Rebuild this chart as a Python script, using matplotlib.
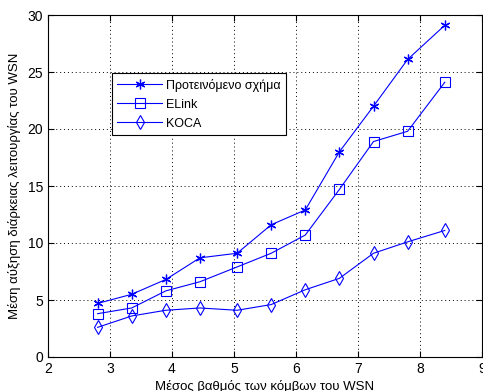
import matplotlib
matplotlib.use('Agg')
import matplotlib.pyplot as plt

plt.rcParams['font.family'] = ['Liberation Sans', 'DejaVu Sans']

# data
x = [2.8, 3.35, 3.9, 4.45, 5.05, 5.6, 6.15, 6.7, 7.25, 7.8, 8.4]
proposed = [4.7, 5.5, 6.8, 8.7, 9.1, 11.6, 12.9, 18.0, 22.0, 26.1, 29.1]
elink = [3.8, 4.3, 5.8, 6.6, 7.9, 9.1, 10.7, 14.7, 18.9, 19.8, 24.1]
koca = [2.6, 3.6, 4.1, 4.3, 4.1, 4.6, 5.9, 6.9, 9.1, 10.1, 11.1]
labels = ['Προτεινόμενο σχήμα', 'ELink', 'KOCA']

fig = plt.figure(figsize=(4.83, 3.91), dpi=100)
ax = fig.add_axes([48 / 483, 34 / 391, 434 / 483, 342 / 391])

ax.plot(x, proposed, color='blue', lw=0.8, marker=(6, 2, 0), ms=7, mew=0.9, label=labels[0])
ax.plot(x, elink, color='blue', lw=0.8, marker='s', ms=6.5, mfc='none', mew=0.8, label=labels[1])
ax.plot(x, koca, color='blue', lw=0.8, marker='d', ms=7, mfc='none', mew=0.8, label=labels[2])

ax.set_xlim(2, 9)
ax.set_ylim(0, 30)
ax.set_xticks(range(2, 10))
ax.set_yticks(range(0, 31, 5))
ax.grid(True, color='black', linestyle=(0, (1, 3)), lw=0.7)
ax.tick_params(direction='in', top=True, right=True, labelsize=10, length=4)
for s in ax.spines.values():
    s.set_linewidth(0.8)

ax.set_xlabel('Μέσος βαθμός των κόμβων του WSN', fontsize=9.5, labelpad=3)
ax.set_ylabel('Μέση αύξηση διάρκειας λειτουργίας του WSN', fontsize=9.5, labelpad=5)

leg = ax.legend(loc='upper left', bbox_to_anchor=(0.147, 0.83), fontsize=9,
                fancybox=False, edgecolor='black', framealpha=1,
                handlelength=3.6, handletextpad=0.3, borderpad=0.45,
                labelspacing=0.55, borderaxespad=0)
leg.get_frame().set_linewidth(0.8)

fig.savefig('out.png', dpi=100)
